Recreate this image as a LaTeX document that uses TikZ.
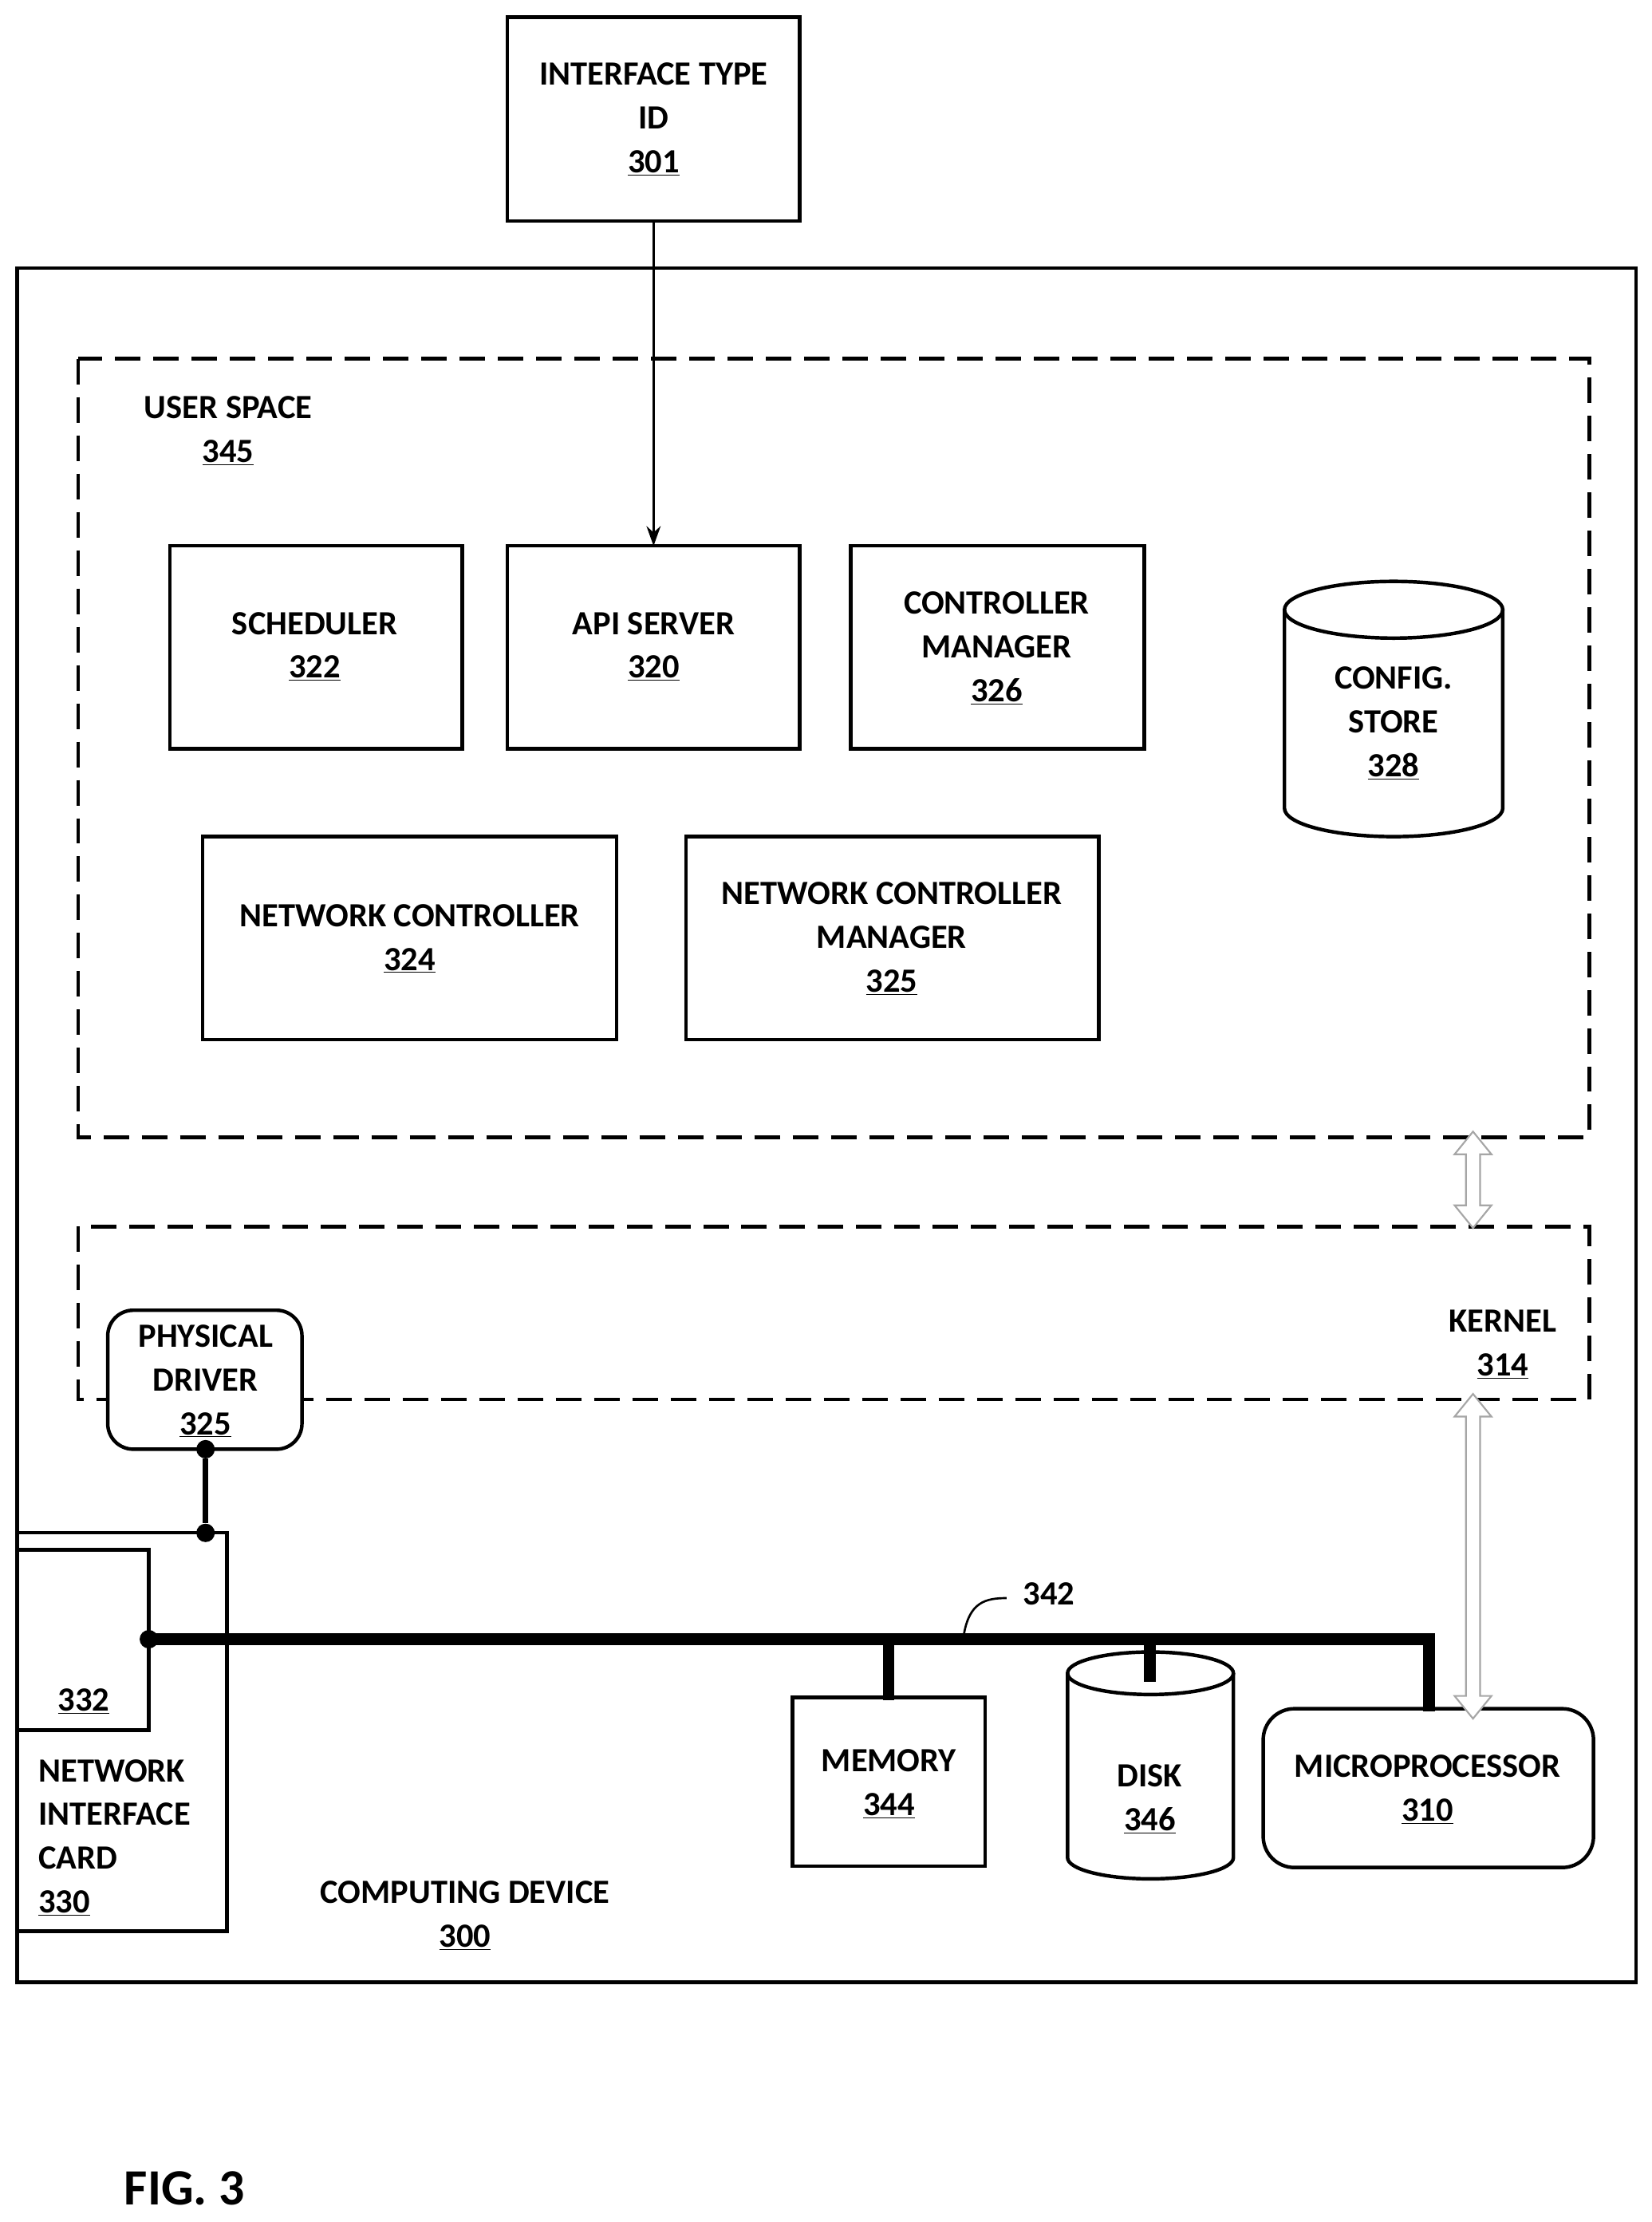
\documentclass[tikz,border=0pt]{standalone}
\usepackage{fontspec}
\setmainfont{Carlito}
\usetikzlibrary{shapes.geometric,arrows.meta}
\newcommand{\dblarrow}[3]{% x, ytop, ybottom
  \draw[draw=gray!70,line width=1.2bp,fill=white] (#1,#2) -- (#1+13,#2+16) -- (#1+5,#2+16) -- (#1+5,#3-16) -- (#1+13,#3-16) -- (#1,#3) -- (#1-13,#3-16) -- (#1-5,#3-16) -- (#1-5,#2+16) -- (#1-13,#2+16) -- cycle;}
\begin{document}
\begin{tikzpicture}[x=1bp,y=-1bp,
  box/.style={draw,line width=2.5bp},
  dbox/.style={draw,line width=2.5bp,dash pattern=on 18bp off 9bp},
  t/.style={font=\fontsize{24}{31}\selectfont\bfseries,align=center,inner sep=0},
  dot/.style={circle,fill,inner sep=0,minimum size=13bp}]
\useasboundingbox (0,0) rectangle (1165,1567);
\fill[white] (0,0) rectangle (1165,1567);
% boxes
\draw[box] (358,12) rectangle (564,156);
\node[t] (itid) at (461,84) {INTERFACE TYPE\\ID\\\underline{301}};
\draw[box] (12,189) rectangle (1154,1398);
\draw[dbox] (55,253) rectangle (1121,802);
\node[t,align=center] (us) at (161,304) {USER SPACE\\\underline{345}};
\draw[box] (120,385) rectangle (326,528); \node[t] (sch) at (222,456) {SCHEDULER\\\underline{322}};
\draw[box] (358,385) rectangle (564,528); \node[t] (api) at (461,456) {API SERVER\\\underline{320}};
\draw[box] (600,385) rectangle (807,528); \node[t] (cm) at (703,457) {CONTROLLER\\MANAGER\\\underline{326}};
\draw[box] (143,590) rectangle (435,733); \node[t] (nc) at (289,662) {NETWORK CONTROLLER\\\underline{324}};
\draw[box] (484,590) rectangle (775,733); \node[t] (ncm) at (629,662) {NETWORK CONTROLLER\\MANAGER\\\underline{325}};
% config store cylinder
\draw[box] (906,430) -- (906,570) arc[start angle=180,end angle=0,x radius=77,y radius=20] -- (1060,430);
\draw[box] (983,430) ellipse[x radius=77,y radius=20];
\node[t] (cs) at (983,510) {CONFIG.\\STORE\\\underline{328}};
% kernel
\draw[dbox] (55,865) rectangle (1121,987);
\node[t] (ker) at (1060,948) {KERNEL\\\underline{314}};
\draw[box,rounded corners=18bp,fill=white] (76,924) rectangle (213,1022);
\node[t] (pd) at (145,974) {PHYSICAL\\DRIVER\\\underline{325}};
% NIC
\draw[box] (12,1081) rectangle (160,1362);
\draw[box] (12,1093) rectangle (105,1220);
\node[t] (n332) at (59,1200) {\underline{332}};
\node[t,align=left,anchor=west] (nic) at (27,1296) {NETWORK\\INTERFACE\\CARD\\\underline{330}};
% bottom
\draw[box] (559,1197) rectangle (695,1316); \node[t] (mem) at (627,1258) {MEMORY\\\underline{344}};
\draw[box] (753,1180) -- (753,1310) arc[start angle=180,end angle=0,x radius=58.5,y radius=15] -- (870,1180);
\draw[box] (811.5,1180) ellipse[x radius=58.5,y radius=15];
\node[t] (disk) at (811,1269) {DISK\\\underline{346}};
\draw[box,rounded corners=22bp] (891,1205) rectangle (1124,1317);
\node[t] (mp) at (1007,1262) {MICROPROCESSOR\\\underline{310}};
\node[t] (cd) at (328,1351) {COMPUTING DEVICE\\\underline{300}};
\node[t,font=\fontsize{36}{40}\selectfont\bfseries] (fig) at (130,1543) {FIG. 3};
% bus
\draw[line width=8bp] (105,1156) -- (1008,1156) -- (1008,1207);
\draw[line width=8bp] (627,1156) -- (627,1199);
\draw[line width=8bp] (811,1156) -- (811,1186);
\node[dot] (bd) at (105,1156) {};
\node[dot] (d1) at (145,1022) {};
\node[dot] (d2) at (145,1081) {};
\draw[line width=4bp] (d1) -- (d2);
\node[t] (l342) at (740,1124) {342};
\draw[line width=1.5bp] (680,1152) .. controls (684,1130) and (695,1127) .. (710,1127);
% arrows
\draw[line width=1.5bp,-{Stealth[length=14bp,width=10bp]}] (461,156) -- (461,385);
\dblarrow{1039}{798}{866}
\dblarrow{1039}{983}{1212}
\end{tikzpicture}
\end{document}
